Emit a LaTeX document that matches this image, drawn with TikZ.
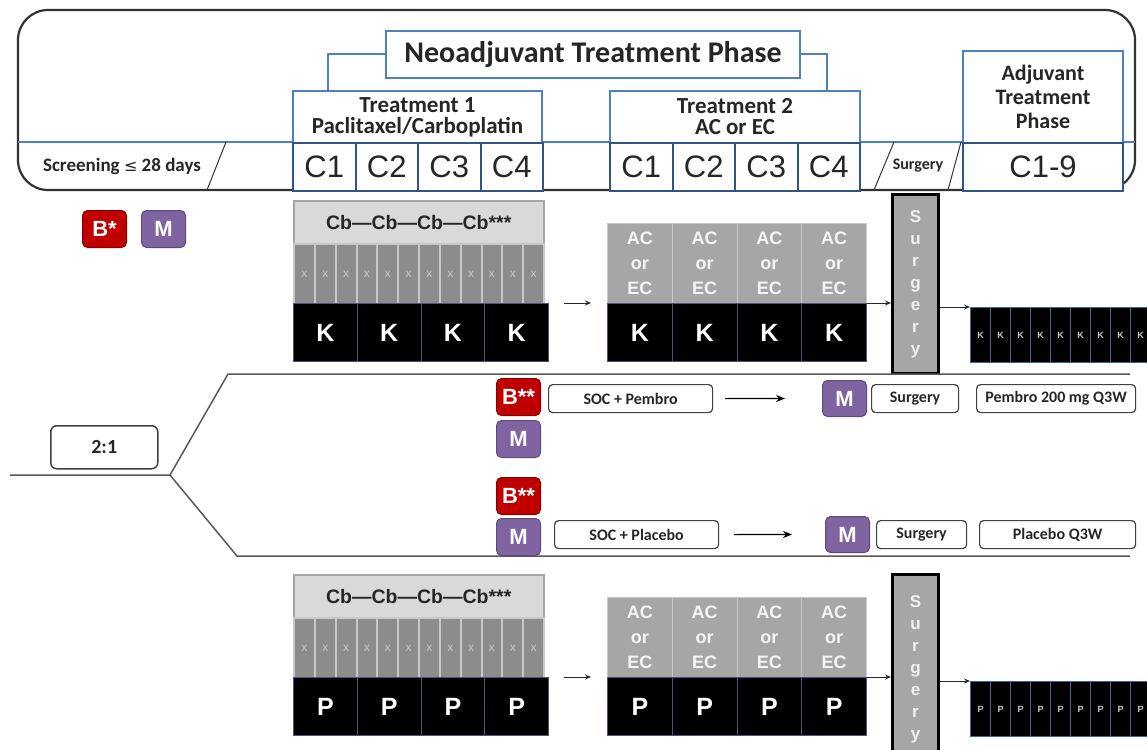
\documentclass[tikz,border=0pt]{standalone}
\usepackage{fontspec}
\setmainfont{Carlito}
\newfontfamily\arial{Liberation Sans}
\newfontfamily\dejavu{DejaVu Sans}
\usetikzlibrary{positioning,arrows.meta}

\definecolor{hblue}{HTML}{4F81BD}
\definecolor{dblue}{HTML}{2F5488}
\definecolor{bred}{HTML}{C00000}
\definecolor{mpurp}{HTML}{8064A2}
\definecolor{mpurpd}{HTML}{5F497A}
\definecolor{cbgray}{HTML}{D9D9D9}
\definecolor{xgray}{HTML}{8C8C8C}
\definecolor{acgray}{HTML}{A6A6A6}
\definecolor{lgray}{HTML}{C8C8C8}
\definecolor{txtc}{HTML}{262626}

\tikzset{
  outer/.style={draw=black!80, line width=2.2, rounded corners=30},
  hline/.style={draw=hblue, line width=1.5},
  slash/.style={draw=black!80, line width=1},
  brk/.style={draw=hblue, line width=2},
  txt/.style={inner sep=0pt, text=txtc},
  hbox/.style={draw=hblue, line width=2, fill=white, inner sep=0pt, anchor=north west,
    align=center, text=txtc, font=\bfseries\fontsize{23}{21}\selectfont},
  cyc/.style={draw=dblue, line width=2, fill=white, inner sep=0pt, anchor=north west,
    minimum width=62.5, minimum height=48, text=txtc, font=\arial\fontsize{31}{31}\selectfont},
  bbox/.style={fill=bred, draw=bred!70!black, line width=1, rounded corners=5, inner sep=0pt,
    anchor=north west, minimum width=44, minimum height=37, text=white,
    font=\arial\bfseries\fontsize{22}{22}\selectfont},
  mbox/.style={bbox, fill=mpurp, draw=mpurpd},
  cbbox/.style={fill=cbgray, draw=acgray, line width=1.5, inner sep=0pt, anchor=north west,
    minimum width=250, minimum height=43, text=txtc, font=\arial\bfseries\fontsize{19.5}{19.5}\selectfont},
  xstrip/.style={fill=xgray, draw=lgray, line width=2, inner sep=0pt, anchor=north west,
    minimum width=20.83, minimum height=60, text=lgray, font=\arial\fontsize{12}{12}\selectfont},
  kbox/.style={fill=black, draw=mpurpd, line width=1, inner sep=0pt, anchor=north west,
    minimum width=63.75, minimum height=58, text=white, font=\arial\bfseries\fontsize{25}{25}\selectfont},
  acbox/.style={fill=acgray, draw=lgray, line width=1, inner sep=0pt, anchor=north west, align=center,
    minimum width=64.75, minimum height=80, text=white!92!gray, font=\arial\bfseries\fontsize{18}{25}\selectfont},
  surg/.style={fill=acgray, draw=black, line width=3, inner sep=0pt, anchor=north west, align=center,
    minimum width=46, text=white!88!gray, font=\arial\bfseries\fontsize{17}{22}\selectfont},
  kstrip/.style={fill=black, draw=hblue!80!black, line width=1.2, inner sep=0pt, anchor=north west,
    minimum width=20, minimum height=55, text=lgray, font=\arial\bfseries\fontsize{9}{9}\selectfont},
  branch/.style={draw=black!65, line width=1.5},
  ratio/.style={draw=black!75, line width=1.5, rounded corners=6, inner sep=0pt, anchor=north west,
    minimum width=107, minimum height=43, text=txtc, font=\bfseries\fontsize{20}{20}\selectfont},
  lbl/.style={draw=black!75, line width=1.2, rounded corners=4, inner sep=0pt, anchor=north west,
    minimum width=164, minimum height=28, text=txtc, font=\bfseries\fontsize{16}{16}\selectfont},
  arr/.style={-{Stealth[length=6,width=5]}, line width=1, draw=black!85},
  arr2/.style={-{Stealth[length=9,width=7]}, line width=1.2, draw=black}
}

\begin{document}
\begin{tikzpicture}[x=1pt, y=-1pt]
\useasboundingbox (0,0) rectangle (1147,749);

% header
\draw[outer] (18,10) rectangle (1135,190);
\draw[hline] (18,142) -- (1135,142);
\node[txt, font=\bfseries\fontsize{19}{19}\selectfont] (scr) at (122,166) {Screening {\dejavu\mdseries\fontsize{16}{16}\selectfont ≤} 28 days};
\coordinate (s1) at (226,142);
\coordinate (s2) at (207,190);
\draw[slash] (s1) -- (s2);

\node[hbox, minimum width=414, minimum height=47, font=\bfseries\fontsize{30}{30}\selectfont] (neo) at (385,30) {Neoadjuvant Treatment Phase};
\node[hbox, minimum width=249, minimum height=52] (tra) at (292,90) {Treatment 1\\Paclitaxel/Carboplatin};
\node[hbox, minimum width=250, minimum height=52] (trb) at (609,90) {Treatment 2\\AC or EC};
\node[hbox, minimum width=160, minimum height=92, font=\bfseries\fontsize{22}{24}\selectfont] (adj) at (962,50) {Adjuvant\\Treatment\\Phase};
\draw[brk] (neo.west) -| ([xshift=36]tra.north west);
\draw[brk] (neo.east) -| ([xshift=-34]trb.north east);

\foreach \i in {1,...,4} {
  \node[cyc] (cta\i) at ({292+62.5*(\i-1)},142) {C\i};
  \node[cyc] (ctb\i) at ({609+62.5*(\i-1)},142) {C\i};
}
\node[cyc, minimum width=160] (cadj) at (962,142) {C1-9};

% surgery in the header
\coordinate (u1) at (894,142);
\coordinate (u2) at (874,190);
\coordinate (u3) at (961,142);
\coordinate (u4) at (948,190);
\draw[slash] (u1) -- (u2) (u3) -- (u4);
\node[txt, font=\bfseries\fontsize{16}{16}\selectfont] (hsurg) at (918,166) {Surgery};

% baseline samples
\node[bbox] (bst) at (82,210) {B*};
\node[mbox] (mst) at (141,210) {M};

% both arms, K on top and P below
\foreach \dy/\L/\n/\bt/\bh in {0/K/a/193/179, 374/P/b/573/190} {
  \node[cbbox] (cb\n) at (293,200+\dy) {Cb—Cb—Cb—Cb***};
  \foreach \i in {0,...,11}
    \node[xstrip] (x\n\i) at ({293+20.833*\i},243+\dy) {x};
  \foreach \i in {0,...,3} {
    \node[kbox] (k\n\i) at ({293+63.75*\i},303+\dy) {\L};
    \node[acbox] (ac\n\i) at ({607+64.75*\i},223+\dy) {AC\\or\\EC};
    \node[kbox, minimum width=64.75] (kk\n\i) at ({607+64.75*\i},303+\dy) {\L};
  }
  \node[surg, minimum height=\bh] (sg\n) at (891,\bt) {S\\u\\r\\g\\e\\r\\y};
  \foreach \i in {0,...,8}
    \node[kstrip] (ks\n\i) at ({970+20*\i},307+\dy) {\L};
  \draw[arr] ([xshift=15]k\n3.north east) -- ([xshift=-16]kk\n0.north west);
  \draw[arr] (kk\n3.north east) -- (kk\n3.north east -| sg\n.west);
  \draw[arr] (sg\n.east |- ks\n0.north) -- (ks\n0.north west);
}

% randomisation
\coordinate (st) at (10,475);
\coordinate (fork) at (170,475);
\coordinate (up) at (228,374);
\coordinate (upe) at (1130,374);
\coordinate (lo) at (237,556);
\coordinate (loe) at (1130,556);
\draw[branch] (st) -- (fork) -- (up) -- (upe);
\draw[branch] (fork) -- (lo) -- (loe);
\node[ratio] (rat) at (50,425) {2:1};

% pembro arm
\node[bbox] (b1) at (496,378) {B**};
\node[mbox] (m1) at (496,420) {M};
\node[lbl] (soc1) at (548,384) {SOC + Pembro};
\node[mbox, minimum height=36] (m3) at (822,380) {M};
\node[lbl, minimum width=87] (sg1) at (871,384) {Surgery};
\node[lbl, minimum width=159] (pem) at (976,384) {Pembro 200 mg Q3W};
\draw[arr2] ([xshift=12]soc1.east) -- ([xshift=-37]m3.west);

% placebo arm
\node[bbox] (b2) at (496,477) {B**};
\node[mbox] (m2) at (496,518) {M};
\node[lbl] (soc2) at (554,520) {SOC + Placebo};
\node[mbox, minimum height=36] (m4) at (825,516) {M};
\node[lbl, minimum width=90] (sg2) at (876,520) {Surgery};
\node[lbl, minimum width=156] (plc) at (979,520) {Placebo Q3W};
\draw[arr2] ([xshift=15]soc2.east) -- ([xshift=-33]m4.west);

\end{tikzpicture}
\end{document}
